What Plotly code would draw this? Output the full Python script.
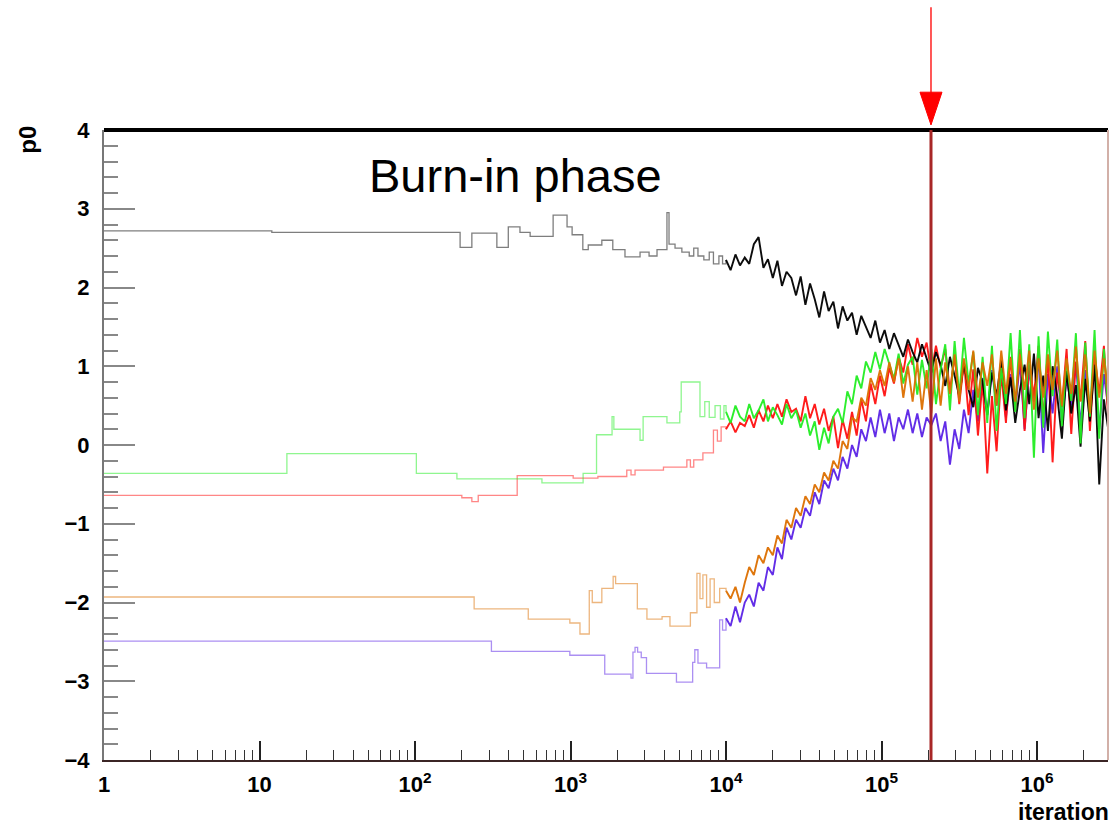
import math
import plotly.graph_objects as go

# ---------------- data ----------------
# shared iteration grid for the noisy (post 1e4) part of every chain
iter_grid = [10000, 10700, 11500, 12300, 13200, 14100, 15100, 16200, 17400, 18600,
             20000, 21400, 22900, 24500, 26300, 28200, 30200, 32400, 34700, 37200,
             39800, 42700, 45700, 49000, 52500, 56200, 60300, 64600, 69200, 74100,
             79400, 85100, 91200, 97700, 104700, 112200, 120200, 128800, 138000, 147900,
             158500, 169800, 182000, 195000, 208900, 223900, 239900, 257000, 275400, 295100,
             316200, 338800, 363100, 389000, 416900, 446700, 478600, 512900, 549500, 588800,
             631000, 676100, 724400, 776200, 831800, 891300, 955000, 1023000, 1096000, 1175000,
             1259000, 1349000, 1445000, 1549000, 1660000, 1778000, 1905000, 2042000, 2188000, 2344000,
             2512000, 2692000, 2860000]

# black chain
black_early_x = [1, 12, 195, 232, 336, 398, 473, 550, 773, 950, 1024, 1200, 1300, 1590, 1870,
                 2240, 2800, 3200, 3600, 4170, 4300, 4700, 5200, 5800, 6200, 6600, 7200, 7800,
                 8300, 9000, 9500]
black_early_y = [2.72, 2.70, 2.51, 2.69, 2.51, 2.77, 2.70, 2.65, 2.92, 2.77, 2.67, 2.48, 2.54, 2.60, 2.48,
                 2.39, 2.45, 2.40, 2.48, 2.95, 2.55, 2.50, 2.45, 2.40, 2.50, 2.40, 2.35, 2.45,
                 2.30, 2.40, 2.30]
black_late_y = [2.35, 2.22, 2.42, 2.28, 2.38, 2.30, 2.55, 2.64, 2.25, 2.36, 2.12,
                2.34, 2.02, 2.20, 2.12, 1.90, 2.14, 1.78, 2.05, 1.85, 1.62,
                1.95, 1.70, 1.82, 1.48, 1.76, 1.58, 1.68, 1.40, 1.64, 1.50,
                1.36, 1.58, 1.30, 1.46, 1.22, 1.42, 1.28, 1.12, 1.34, 1.18,
                1.05, 1.28, 1.10, 0.92, 1.18, 1.02, 0.75, 1.12, 0.88, 0.62,
                1.04, 0.70, 0.48, 0.98, 0.80, 0.38, 0.92, 0.62, 1.08, 0.44,
                0.86, 0.28, 0.70, 1.02, 0.52, 1.16, 0.34, 0.88, 0.18, 1.00,
                0.62, 0.08, 0.94, 0.40, 0.76, -0.02, 0.84, 0.30, 1.02, -0.50, 0.58, 0.22]

# green chain
green_early_x = [1, 15, 102, 186, 655, 1205, 1470, 1850, 1900, 2800, 2930, 4170, 5040, 5150,
                 6800, 7300, 7800, 8500, 9200, 9700]
green_early_y = [-0.36, -0.11, -0.36, -0.43, -0.48, -0.36, 0.13, 0.36, 0.20, 0.06, 0.36, 0.28, 0.42, 0.80,
                 0.36, 0.55, 0.35, 0.50, 0.33, 0.50]
green_late_y = [0.42, 0.28, 0.50, 0.36, 0.30, 0.52, 0.34, 0.44, 0.58, 0.30, 0.48,
                0.38, 0.26, 0.52, 0.34, 0.44, 0.22, 0.40, 0.12, 0.30, -0.06,
                0.22, 0.02, 0.36, 0.46, 0.28, 0.68, 0.52, 0.88, 0.72, 1.06,
                0.92, 1.18, 0.96, 1.22, 1.04, 0.84, 1.16, 0.78, 1.02, 1.12,
                0.64, 1.08, 0.72, 1.22, 0.52, 0.96, 1.28, 0.44, 1.32, 0.62,
                1.36, 0.78, 1.18, 0.38, 1.12, 0.28, 1.26, 0.18, 0.98, 0.52,
                1.42, 0.42, 1.46, 0.34, 1.28, -0.16, 1.38, 0.22, 1.44, 0.62,
                1.34, 0.24, 1.08, 0.56, 1.42, 0.02, 1.30, 0.36, 1.46, 0.08, 1.22, 0.52]

# red chain
red_early_x = [1, 200, 232, 255, 454, 1040, 1500, 2300, 2450, 2600, 3960, 5600, 5900, 6200,
               7100, 8300, 8800, 9300]
red_early_y = [-0.64, -0.67, -0.72, -0.64, -0.39, -0.42, -0.40, -0.32, -0.38, -0.32, -0.28, -0.19, -0.28, -0.19,
               -0.10, 0.19, 0.05, 0.23]
red_late_y = [0.20, 0.30, 0.16, 0.28, 0.24, 0.38, 0.22, 0.44, 0.30, 0.50, 0.34,
              0.52, 0.36, 0.58, 0.42, 0.46, 0.30, 0.62, 0.34, 0.52, 0.26,
              0.46, 0.18, 0.36, -0.04, 0.32, 0.08, 0.42, 0.12, 0.58, 0.30,
              0.78, 0.52, 0.88, 0.62, 0.98, 0.78, 1.12, 0.92, 1.28, 1.02,
              1.36, 1.12, 1.30, 0.92, 1.26, 0.98, 1.22, 0.68, 1.14, 0.52,
              1.06, 0.38, 0.96, 0.12, 0.82, -0.36, 0.62, -0.08, 0.92, 0.28,
              1.12, 0.44, 1.22, 0.18, 1.02, 0.62, 1.26, 0.34, 1.12, -0.22,
              0.92, 0.48, 1.22, 0.14, 1.06, 0.56, 1.32, 0.18, 1.12, 0.66, 1.26, 0.38]

# orange chain
orange_early_x = [1, 240, 535, 990, 1150, 1320, 1380, 1590, 1880, 1950, 2690, 3100, 3880, 4360,
                  5900, 6500, 6800, 7100, 7500, 7900, 8400, 9100]
orange_early_y = [-1.93, -2.08, -2.21, -2.26, -2.40, -1.85, -2.00, -1.82, -1.67, -1.76, -2.08, -2.21, -2.18, -2.30,
                  -2.13, -1.63, -1.95, -1.65, -2.06, -1.70, -2.00, -1.82]
orange_late_y = [-1.85, -1.95, -1.80, -2.00, -1.75, -1.55, -1.65, -1.40, -1.50, -1.30, -1.40,
                 -1.15, -1.25, -0.95, -1.05, -0.80, -0.90, -0.65, -0.75, -0.50, -0.60,
                 -0.35, -0.45, -0.20, -0.30, 0.05, -0.05, 0.35, 0.30, 0.60, 0.50,
                 0.85, 0.70, 0.95, 0.75, 1.05, 0.80, 1.10, 0.60, 1.00, 0.55,
                 1.05, 0.45, 0.95, 0.40, 1.10, 0.50, 1.05, 0.65, 1.15, 0.55,
                 1.10, 0.70, 1.20, 0.60, 1.05, 0.75, 1.15, 0.50, 1.20, 0.65,
                 1.10, 0.55, 1.15, 0.70, 1.20, 0.45, 1.10, 0.60, 1.15, 0.70,
                 1.20, 0.50, 1.10, 0.65, 1.25, 0.55, 1.15, 0.40, 1.20, 0.60, 1.10, 0.70]

# blue chain
blue_early_x = [1, 310, 990, 1660, 2450, 2520, 2600, 2700, 2850, 3080, 4800, 6100, 6300, 6600,
                7500, 9100, 9500]
blue_early_y = [-2.49, -2.62, -2.67, -2.91, -2.96, -2.63, -2.57, -2.63, -2.70, -2.90, -3.01, -2.76, -2.60, -2.77,
                -2.83, -2.22, -2.35]
blue_late_y = [-2.20, -2.30, -2.05, -2.25, -2.00, -1.90, -2.05, -1.75, -1.85, -1.55, -1.65,
               -1.30, -1.45, -1.05, -1.20, -0.95, -1.05, -0.80, -0.90, -0.60, -0.75,
               -0.45, -0.55, -0.30, -0.45, -0.15, -0.30, 0.00, -0.15, 0.20, 0.05,
               0.35, 0.10, 0.45, 0.15, 0.40, 0.05, 0.35, 0.20, 0.45, 0.15,
               0.40, 0.10, 0.35, 0.25, 0.40, 0.05, 0.30, -0.25, 0.20, -0.05,
               0.45, 0.15, 0.70, 0.30, 0.85, 0.40, 0.95, 0.50, 1.00, 0.35,
               0.90, 0.45, 1.05, 0.20, 0.95, 0.55, 1.10, -0.10, 0.90, 0.40,
               1.00, 0.30, 0.85, 0.50, 1.05, 0.25, 0.95, 0.45, 1.00, 0.20, 0.90, 0.50]

burn_in_end = 2.08e5
x_max = 2.86e6
x_tick_vals = [1, 10, 100, 1000, 10000, 100000, 1000000]
x_tick_text = ["1", "10", "10<sup>2</sup>", "10<sup>3</sup>", "10<sup>4</sup>", "10<sup>5</sup>", "10<sup>6</sup>"]
y_tick_vals = [-4, -3, -2, -1, 0, 1, 2, 3, 4]

chains = [
    ("blue", blue_early_x, blue_early_y, blue_late_y, "#5a22e6"),
    ("red", red_early_x, red_early_y, red_late_y, "#ff1010"),
    ("black", black_early_x, black_early_y, black_late_y, "#000000"),
    ("green", green_early_x, green_early_y, green_late_y, "#22ee22"),
    ("orange", orange_early_x, orange_early_y, orange_late_y, "#dd6f00"),
]

fig = go.Figure()
for name, ex, ey, ly, col in chains:
    fig.add_trace(go.Scatter(
        x=ex + [iter_grid[0]], y=ey + [ly[0]], mode="lines",
        line=dict(color=col, width=1.3, shape="hv"), opacity=0.5,
        showlegend=False, hoverinfo="skip", name=name))
for name, ex, ey, ly, col in chains:
    fig.add_trace(go.Scatter(
        x=iter_grid, y=ly, mode="lines",
        line=dict(color=col, width=1.9), opacity=0.95,
        showlegend=False, hoverinfo="skip", name=name))

minor_x = [m * d for d in x_tick_vals for m in range(2, 10) if m * d < x_max]

FONT = "Liberation Sans"
fig.update_layout(
    width=1111, height=825,
    margin=dict(l=104, r=3, t=130, b=65),
    paper_bgcolor="white", plot_bgcolor="white",
    font=dict(family=FONT, color="black"),
    xaxis=dict(type="log", range=[0, math.log10(x_max)],
               tickvals=x_tick_vals, ticktext=x_tick_text,
               ticks="inside", ticklen=19, tickwidth=1.5, tickcolor="#222",
               minor=dict(ticks="inside", ticklen=10, tickwidth=1.2, tickcolor="#333",
                          tickvals=minor_x, showgrid=False),
               tickfont=dict(size=22, family=FONT, weight="bold"),
               ticklabelstandoff=4,
               showgrid=False, zeroline=False,
               showline=True, linecolor="#3b2525", linewidth=2),
    yaxis=dict(range=[-4, 4], tickvals=y_tick_vals,
               ticks="inside", ticklen=31, tickwidth=1.5, tickcolor="#888",
               minor=dict(ticks="inside", ticklen=14, tickwidth=1.5, tickcolor="#888",
                          dtick=0.2, showgrid=False),
               tickfont=dict(size=22, family=FONT, weight="bold"),
               ticklabelstandoff=8,
               showgrid=False, zeroline=False,
               showline=True, linecolor="#777", linewidth=2),
)

# frame lines, burn-in marker and arrow
fig.add_shape(type="line", xref="paper", yref="paper", x0=0, x1=1, y0=1, y1=1,
              line=dict(color="black", width=4))
fig.add_shape(type="line", xref="paper", yref="paper", x0=1, x1=1, y0=0, y1=1,
              line=dict(color="#d2b0a8", width=2))
fig.add_shape(type="line", xref="x", yref="paper", x0=burn_in_end, x1=burn_in_end, y0=0, y1=1,
              line=dict(color="#a82626", width=3))
fig.add_shape(type="line", xref="x", yref="paper", x0=burn_in_end, x1=burn_in_end, y0=1.05, y1=1.195,
              line=dict(color="#ff2020", width=1.5))
fig.add_shape(type="path", xref="x", xsizemode="pixel", xanchor=burn_in_end, yref="paper",
              path="M -11,1.060 L 11,1.060 L 0,1.008 Z",
              fillcolor="#ff0000", line=dict(color="#ff0000", width=1))

fig.add_annotation(text="Burn-in phase", xref="paper", yref="paper", x=0.41, y=0.928,
                   showarrow=False, font=dict(size=47, family=FONT, color="black"),
                   xanchor="center", yanchor="middle")
fig.add_annotation(text="<b>iteration</b>", xref="paper", yref="paper", x=1.0, y=-0.083,
                   showarrow=False, font=dict(size=23, family=FONT, color="black"),
                   xanchor="right", yanchor="middle", xshift=3)
fig.add_annotation(text="<b>p0</b>", xref="paper", yref="paper", x=-0.077, y=1.0,
                   showarrow=False, font=dict(size=24, family=FONT, color="black"),
                   textangle=-90, xanchor="center", yanchor="top", yshift=6)

fig.write_html("out.html")
